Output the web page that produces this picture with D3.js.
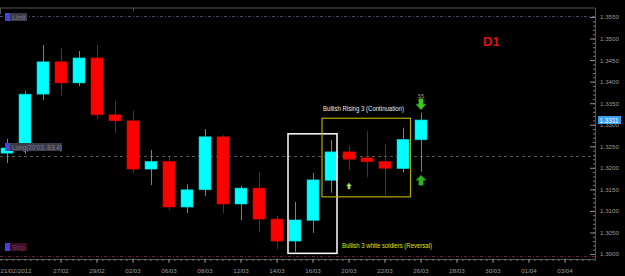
<!DOCTYPE html>
<html>
<head>
<meta charset="utf-8">
<script src="https://cdn.jsdelivr.net/npm/d3@7"></script>
<style>
  html, body { margin: 0; padding: 0; background: #000; }
  #chart { width: 625px; height: 276px; }
  text { font-family: "Liberation Sans", Arial, sans-serif; }
</style>
</head>
<body>
<div id="chart"></div>
<script>
// daily bars, EURUSD-ish quotes
const dates = ['22/02','23/02','24/02','27/02','28/02','29/02','01/03','02/03','05/03','06/03','07/03','08/03',
               '09/03','12/03','13/03','14/03','15/03','16/03','19/03','20/03','21/03','22/03','23/03','26/03'];
const open  = [1.3234,1.3255,1.3371,1.3446,1.3397,1.3455,1.3323,1.3309,1.3197,1.3215,1.3109,1.3149,
               1.3272,1.3116,1.3153,1.3081,1.3030,1.3078,1.3171,1.3237,1.3223,1.3215,1.3198,1.3265];
const high  = [1.3267,1.3378,1.3485,1.3478,1.3471,1.3485,1.3355,1.3332,1.3241,1.3225,1.3162,1.3290,
               1.3276,1.3158,1.3190,1.3088,1.3121,1.3188,1.3265,1.3251,1.3285,1.3255,1.3293,1.3328];
const low   = [1.3211,1.3232,1.3357,1.3367,1.3390,1.3313,1.3281,1.3188,1.3160,1.3102,1.3095,1.3135,
               1.3095,1.3079,1.3051,1.3012,1.3005,1.3049,1.3142,1.3195,1.3178,1.3135,1.3189,1.3191];
const close = [1.3246,1.3371,1.3446,1.3397,1.3455,1.3323,1.3309,1.3197,1.3215,1.3109,1.3149,1.3272,
               1.3116,1.3153,1.3081,1.3030,1.3079,1.3172,1.3237,1.3220,1.3214,1.3199,1.3266,1.3311];

const priceTicks = [1.3000,1.3050,1.3100,1.3150,1.3200,1.3250,1.3300,1.3350,1.3400,1.3450,1.3500,1.3550];
// bar index -> date label on the time axis
const dateTickIdx    = [-1, 3, 5, 7, 9, 11, 13, 15, 17, 19, 21, 23, 25, 27, 29, 31];
const dateTickLabels = ['21/02/2012','27/02','29/02','02/03','06/03','08/03','12/03','14/03','16/03',
                        '20/03','22/03','26/03','28/03','30/03','01/04','03/04'];

const levelNames  = ['Limit', 'Long(20\'03, 83.4)', 'Stop'];
const levelPrices = [1.3552, 1.3227, 1.2995];
const lastPrice = 1.3311;

const bars = dates.map((d, i) => ({ i, date: d, o: open[i], h: high[i], l: low[i], c: close[i] }));

const W = 625, H = 276;
const plotRight = 595, plotTop = 8, plotBottom = 259;

const svg = d3.select('#chart').append('svg')
    .attr('width', W)
    .attr('height', H);

svg.append('rect').attr('width', W).attr('height', H).attr('fill', '#000');

const x = d3.scaleLinear().domain([0, 32]).range([6.5, 6.5 + 18 * 32]);
const y = d3.scaleLinear().domain([1.3, 1.355]).range([254, 17]);

// frame
svg.append('line')
    .attr('x1', 0).attr('x2', plotRight).attr('y1', plotTop).attr('y2', plotTop)
    .attr('stroke', '#555').attr('stroke-width', 1);
svg.append('line')
    .attr('x1', plotRight + 0.5).attr('x2', plotRight + 0.5).attr('y1', plotTop).attr('y2', plotBottom)
    .attr('stroke', '#555').attr('stroke-width', 1);
svg.append('line')
    .attr('x1', 0).attr('x2', plotRight).attr('y1', plotBottom + 0.5).attr('y2', plotBottom + 0.5)
    .attr('stroke', '#555').attr('stroke-width', 1);
svg.append('line').attr('x1', 0.5).attr('x2', 0.5).attr('y1', plotTop).attr('y2', plotTop + 6)
    .attr('stroke', '#555');
svg.append('line').attr('x1', 133.5).attr('x2', 133.5).attr('y1', plotTop).attr('y2', plotTop + 3)
    .attr('stroke', '#555');

// order level lines
const levelColors = ['#4a4a66', '#555', '#6a1a3a'];
const levelDash = ['3,2,1,2', '3,3', '3,2,1,2'];
levelPrices.forEach((p, k) => {
  svg.append('line')
    .attr('x1', 0).attr('x2', plotRight)
    .attr('y1', Math.round(y(p)) + 0.5).attr('y2', Math.round(y(p)) + 0.5)
    .attr('stroke', levelColors[k])
    .attr('stroke-dasharray', levelDash[k]);
});

// price axis
const minorTicks = d3.range(1.3000, 1.3556, 0.001);
svg.append('g')
    .attr('transform', `translate(${plotRight},0)`)
    .call(d3.axisLeft(y).tickValues(minorTicks).tickSize(2).tickFormat(''))
    .call(g => g.select('.domain').remove())
    .call(g => g.selectAll('line').attr('stroke', '#777'));
svg.append('g')
    .attr('transform', `translate(${plotRight},0)`)
    .call(d3.axisLeft(y).tickValues(priceTicks).tickSize(5).tickFormat(''))
    .call(g => g.select('.domain').remove())
    .call(g => g.selectAll('line').attr('stroke', '#888'));
svg.append('g')
    .attr('transform', `translate(${plotRight},0)`)
    .call(d3.axisRight(y).tickValues(priceTicks).tickSize(0).tickPadding(5).tickFormat(d3.format('.4f')))
    .call(g => g.select('.domain').remove())
    .call(g => g.selectAll('text')
        .attr('fill', '#999')
        .attr('font-size', 6.2));

// time axis
const minorX = d3.range(-1, 33, 1 / 3);
svg.append('g')
    .attr('transform', `translate(0,${plotBottom})`)
    .call(d3.axisBottom(x).tickValues(minorX).tickSize(2).tickSizeOuter(0).tickFormat(''))
    .call(g => g.select('.domain').remove())
    .call(g => g.selectAll('line').attr('stroke', '#777'));
svg.append('g')
    .attr('transform', `translate(0,${plotBottom})`)
    .call(d3.axisBottom(x).tickValues(dateTickIdx).tickSize(4).tickSizeOuter(0).tickPadding(6)
        .tickFormat((d, k) => dateTickLabels[k]))
    .call(g => g.select('.domain').remove())
    .call(g => g.selectAll('line').attr('stroke', '#888'))
    .call(g => g.selectAll('text')
        .attr('fill', '#999')
        .attr('font-size', 6.2))
    .call(g => g.selectAll('.tick').filter(d => d === -1).select('text')
        .attr('text-anchor', 'start')
        .attr('x', -x(-1)));

// candles
const candles = svg.append('g').attr('class', 'candles');
candles.selectAll('line.wick')
    .data(bars)
    .enter()
    .append('line')
    .attr('class', 'wick')
    .attr('x1', d => Math.round(x(d.i)) + 0.5)
    .attr('x2', d => Math.round(x(d.i)) + 0.5)
    .attr('y1', d => y(d.h))
    .attr('y2', d => y(d.l))
    .attr('stroke', d => d.c >= d.o ? '#00b4b4' : '#c00000')
    .attr('stroke-width', 1);

candles.selectAll('rect.body')
    .data(bars)
    .enter()
    .append('rect')
    .attr('class', 'body')
    .attr('x', d => Math.round(x(d.i)) - 6)
    .attr('width', 12)
    .attr('y', d => y(Math.max(d.o, d.c)))
    .attr('height', d => Math.max(1, Math.abs(y(d.o) - y(d.c))))
    .attr('fill', d => d.c >= d.o ? '#00ffff' : '#ff0000')
    .attr('stroke', d => d.c >= d.o ? '#00c8c8' : '#d00000')
    .attr('stroke-width', 0.6);

// pattern boxes
const soldiers = [16, 18];
const rising = [18, 22];
svg.append('rect')
    .attr('x', x(soldiers[0]) - 6.5)
    .attr('y', y(high[18]) - 6)
    .attr('width', x(soldiers[1]) - x(soldiers[0]) + 13)
    .attr('height', y(low[16]) - y(high[18]) + 7.5)
    .attr('fill', 'none')
    .attr('stroke', '#ffffff')
    .attr('stroke-width', 1.5);
svg.append('rect')
    .attr('x', x(rising[0]) - 8.5)
    .attr('y', y(high[22]) - 9.5)
    .attr('width', x(rising[1]) - x(rising[0]) + 16.5)
    .attr('height', y(low[21]) - y(high[22]) + 10.5)
    .attr('fill', 'none')
    .attr('stroke', '#b8a800')
    .attr('stroke-width', 1.2);

svg.append('text')
    .attr('x', 323).attr('y', 110.5)
    .attr('font-size', 6.4)
    .attr('fill', '#e8e8e8')
    .attr('textLength', 81)
    .attr('lengthAdjust', 'spacingAndGlyphs')
    .text('Bullish Rising 3 (Continuation)');
svg.append('text')
    .attr('x', 342).attr('y', 247.5)
    .attr('font-size', 6.4)
    .attr('fill', '#e0e000')
    .attr('textLength', 90)
    .attr('lengthAdjust', 'spacingAndGlyphs')
    .text('Bullish 3 white soldiers (Reversal)');

// signal arrows
function arrow(cx, tip, dir, w, h, fill) {
  const s = dir === 'down' ? 1 : -1;
  const headH = h * 0.5;
  const base = tip - s * headH;
  const end = tip - s * h;
  const pts = [
    [cx, tip], [cx - w / 2, base], [cx - w / 4.5, base], [cx - w / 4.5, end],
    [cx + w / 4.5, end], [cx + w / 4.5, base], [cx + w / 2, base]
  ];
  svg.append('path')
    .attr('d', d3.line()(pts) + 'Z')
    .attr('fill', fill)
    .attr('stroke', d3.color(fill).darker(0.6))
    .attr('stroke-width', 0.5);
}
arrow(x(23) + 0.5, y(high[23]) - 3, 'down', 10, 11, '#3cc81e');
arrow(x(23) + 0.5, y(low[23]) + 3.5, 'up', 10, 10, '#28b81a');
arrow(x(19) + 0.5, y(low[19]) + 13, 'up', 5, 6, '#a8e060');

svg.append('text')
    .attr('x', x(23) + 0.5).attr('y', 98)
    .attr('text-anchor', 'middle')
    .attr('font-size', 6)
    .attr('fill', '#8a8a8a')
    .text('55');

// order level labels
const levelBg = ['#3a3a48', '#3a3a48', '#3a0e22'];
const levelFg = ['#7a7a90', '#7a7a90', '#7a3050'];
const labelW = [22, 57, 22];
levelPrices.forEach((p, k) => {
  const yy = Math.round(y(p));
  const top = k === 0 ? yy - 3 : (k === 1 ? yy - 13 : yy - 13);
  svg.append('rect')
    .attr('x', 5).attr('y', top).attr('width', labelW[k]).attr('height', 8)
    .attr('fill', levelBg[k]);
  svg.append('rect')
    .attr('x', 5).attr('y', top).attr('width', 5).attr('height', 8)
    .attr('fill', '#4444dd');
  svg.append('text')
    .attr('x', 12).attr('y', top + 6.5)
    .attr('font-size', 6.4)
    .attr('fill', levelFg[k])
    .text(levelNames[k]);
});

// last price marker
svg.append('rect')
    .attr('x', 598).attr('y', Math.round(y(lastPrice)) - 4)
    .attr('width', 23).attr('height', 8)
    .attr('fill', '#3a9ef0');
svg.append('text')
    .attr('x', 599.5).attr('y', Math.round(y(lastPrice)) + 2.5)
    .attr('font-size', 6.4)
    .attr('fill', '#ffffff')
    .text(d3.format('.4f')(lastPrice));

// timeframe tag
svg.append('text')
    .attr('x', 483).attr('y', 46)
    .attr('font-size', 13)
    .attr('font-weight', 'bold')
    .attr('fill', '#e01010')
    .text('D1');
</script>
</body>
</html>
